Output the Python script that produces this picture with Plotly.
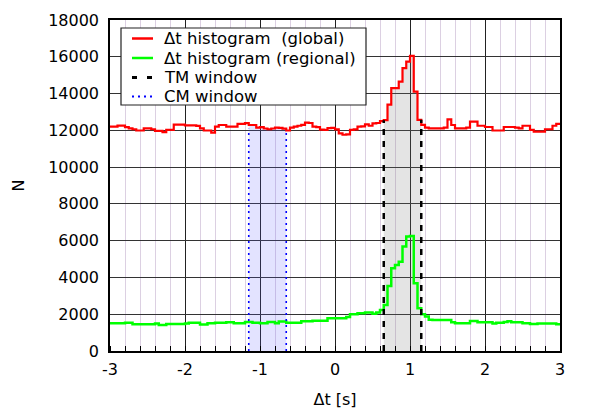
import numpy as np
import plotly.graph_objects as go

# bin edges of the Δt histograms (width 0.05 s, from -3 to 3)
bin_lo = -3.0
bin_w = 0.05

global_counts = [
    12200, 12200, 12260, 12260, 12170, 12110, 12060, 11990, 11990, 12110,
    12110, 12060, 11970, 11970, 11900, 12020, 12020, 12310, 12310, 12310,
    12270, 12270, 12270, 12240, 12110, 11990, 11990, 11880, 12200, 12290,
    12290, 12200, 12200, 12200, 12350, 12350, 12390, 12290, 12290, 12150,
    12170, 12100, 12060, 12100, 12150, 12130, 12090, 11990, 12150, 12200,
    12250, 12300, 12420, 12400, 12200, 12170, 12040, 12030, 12120, 12130,
    12050, 11830, 11760, 11780, 12030, 12050, 12200, 12220, 12320, 12250,
    12380, 12400, 12500, 12550, 13400, 14290, 14300, 14650, 15380, 15740,
    16050, 14110, 12570, 12300, 12150, 12110, 12110, 12110, 12110, 12150,
    12600, 12290, 12110, 12110, 12110, 12150, 12470, 12470, 12250, 12250,
    12180, 12180, 11990, 11990, 11990, 12180, 12180, 12180, 12150, 12110,
    12250, 12250, 12020, 11930, 11930, 11930, 12060, 12060, 12250, 12350,
]

regional_counts = [
    1505, 1505, 1505, 1505, 1540, 1540, 1450, 1450, 1450, 1450,
    1450, 1450, 1500, 1415, 1415, 1470, 1470, 1470, 1470, 1470,
    1500, 1540, 1540, 1540, 1435, 1435, 1505, 1505, 1540, 1540,
    1540, 1560, 1560, 1505, 1505, 1505, 1580, 1580, 1540, 1540,
    1505, 1505, 1580, 1580, 1505, 1600, 1600, 1540, 1540, 1540,
    1540, 1615, 1615, 1615, 1650, 1650, 1650, 1650, 1780, 1780,
    1780, 1780, 1780, 1850, 2000, 2000, 2050, 2050, 2100, 2100,
    2030, 2100, 2230, 2500, 3540, 4500, 4680, 4860, 5680, 6220,
    6260, 3680, 2320, 2000, 1870, 1700, 1690, 1690, 1690, 1690,
    1690, 1560, 1510, 1510, 1510, 1510, 1630, 1630, 1560, 1560,
    1560, 1560, 1490, 1540, 1540, 1580, 1620, 1560, 1560, 1560,
    1510, 1510, 1470, 1470, 1490, 1490, 1490, 1490, 1490, 1460,
]

tm_window = [0.65, 1.15]
cm_window = [-1.15, -0.65]

x_ticks = [-3, -2, -1, 0, 1, 2, 3]
y_ticks = [0, 2000, 4000, 6000, 8000, 10000, 12000, 14000, 16000, 18000]

legend_labels = ["Δt histogram \u00a0(global)", "Δt histogram (regional)",
                 "TM window", "CM window"]

n = len(global_counts)
edges = bin_lo + bin_w * np.arange(n + 1)
g_step = global_counts + [global_counts[-1]]
r_step = regional_counts + [regional_counts[-1]]


def value_at(x):
    i = int(np.clip(np.floor((x - bin_lo) / bin_w + 1e-9), 0, n - 1))
    return global_counts[i]


def window_fill(win, color):
    a, b = win
    xs = [a]
    ys = [value_at(a)]
    for e in edges:
        if a < e < b:
            xs.append(float(e))
            ys.append(value_at(e))
    xs.append(b)
    ys.append(value_at(b - 1e-6))
    return go.Scatter(x=xs, y=ys, mode="lines", line=dict(width=0, shape="hv"),
                      fill="tozeroy", fillcolor=color, showlegend=False,
                      hoverinfo="skip")


fig = go.Figure()
fig.add_trace(window_fill(tm_window, "rgba(120,120,120,0.2)"))
fig.add_trace(window_fill(cm_window, "rgba(90,90,255,0.17)"))

fig.add_trace(go.Scatter(x=edges, y=g_step, mode="lines",
                         line=dict(color="#ff0000", width=2.2, shape="hv"),
                         name=legend_labels[0], showlegend=False))
fig.add_trace(go.Scatter(x=edges, y=r_step, mode="lines",
                         line=dict(color="#00ff00", width=2.5, shape="hv"),
                         name=legend_labels[1], showlegend=False))

for xv in tm_window:
    top = value_at(xv - 1e-6 if xv == tm_window[1] else xv)
    fig.add_trace(go.Scatter(x=[xv, xv], y=[0, top], mode="lines",
                             line=dict(color="black", width=2.5, dash="6px,6px"),
                             name=legend_labels[2], showlegend=False))
for xv in cm_window:
    top = value_at(xv - 1e-6 if xv == cm_window[1] else xv) - 200
    fig.add_trace(go.Scatter(x=[xv, xv], y=[0, top], mode="lines",
                             line=dict(color="#0000ff", width=1.6, dash="2px,4px"),
                             name=legend_labels[3], showlegend=False))

# ---- legend drawn as box + sample lines + text (paper coordinates) ----
L, R, T, B = 110, 560, 20, 351   # plot area in pixels (for conversion only)
def px(xp):
    return (xp - L) / (R - L)
def py(yp):
    return (B - yp) / (B - T)

shapes = [dict(type="rect", xref="paper", yref="paper",
               x0=px(121), x1=px(366), y0=py(105), y1=py(28),
               fillcolor="white", line=dict(color="#222222", width=1.2), layer="above")]
legend_styles = [
    dict(color="#ff0000", width=2.5),
    dict(color="#00ff00", width=2.5),
    dict(color="black", width=3, dash="5px,10px"),
    dict(color="#0000ff", width=2, dash="2px,4px"),
]
rows = [38.5, 58, 77.5, 96.5]
annotations = []
for lab, sty, r in zip(legend_labels, legend_styles, rows):
    shapes.append(dict(type="line", xref="paper", yref="paper",
                       x0=px(132), x1=px(153), y0=py(r), y1=py(r),
                       line=sty, layer="above"))
    annotations.append(dict(text=lab, xref="paper", yref="paper",
                            x=px(162), y=py(r), xanchor="left", yanchor="middle",
                            showarrow=False,
                            font=dict(family="DejaVu Sans, sans-serif", size=16.5,
                                      color="black")))

font = "DejaVu Sans, sans-serif"
fig.update_layout(
    width=590, height=413,
    margin=dict(l=L, r=590 - R, t=T, b=413 - B),
    paper_bgcolor="white", plot_bgcolor="white",
    font=dict(family=font, size=16, color="black"),
    showlegend=False,
    shapes=shapes, annotations=annotations,
)
fig.update_xaxes(
    range=[-3, 3], tickvals=x_ticks, ticktext=[str(v) for v in x_ticks],
    showgrid=True, gridcolor="#222222", gridwidth=1,
    showline=True, linecolor="black", linewidth=1.5, mirror=True,
    ticks="", zeroline=False, ticklabelstandoff=3, automargin=False,
    minor=dict(dtick=0.2, tick0=-3, showgrid=True, gridcolor="#dcd0e2", gridwidth=1,
               ticks="inside", ticklen=5, tickcolor="black"),
    title=dict(text="Δt [s]", standoff=16, font=dict(size=16)),
)
fig.update_yaxes(
    range=[0, 18000], tickvals=y_ticks, ticktext=[str(v) for v in y_ticks],
    showgrid=True, gridcolor="#333333", gridwidth=1,
    showline=True, linecolor="black", linewidth=1.5, mirror=True,
    ticks="", zeroline=False, ticklabelstandoff=6, automargin=False,
    title=dict(text="N", standoff=20, font=dict(size=16)),
)

fig.write_html("out.html")
